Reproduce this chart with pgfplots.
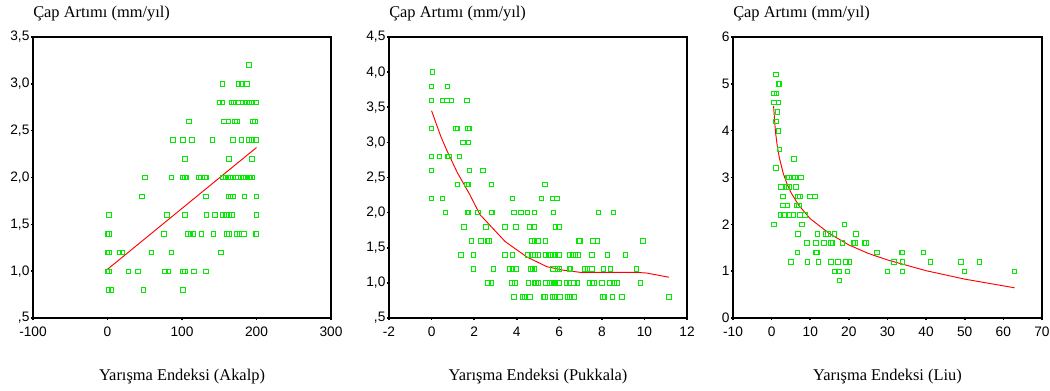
\documentclass[border=0pt]{standalone}
\usepackage{pgfplots}
\pgfplotsset{compat=1.18}
\usepackage{fontspec}
\setmainfont{Liberation Serif}
\setsansfont{Liberation Sans}
\definecolor{ptgreen}{RGB}{0,235,0}
\definecolor{fitred}{RGB}{255,0,0}
\pgfplotsset{
 panel/.style={
  scale only axis, height=210.75pt, anchor=south west,
  enlargelimits=false,
  axis line style={line width=0.8pt},
  tick style={black, line width=1.2pt}, major tick length=1.5pt, tick align=outside,
  xtick pos=lower, ytick pos=left,
  ticklabel style={font=\sffamily\fontsize{10.3}{12}\selectfont},
  yticklabel style={inner xsep=1pt},
  xticklabel style={yshift=-1.5pt},
  xlabel style={font=\fontsize{12.3}{14}\selectfont, at={(rel axis cs:0.5,0)}, anchor=base, yshift=-46.5pt},
  ylabel style={font=\fontsize{12.3}{14}\selectfont, rotate=-90, at={(rel axis cs:0,1)}, anchor=base west, yshift=15pt, inner xsep=0pt},
  ylabel={Çap Artımı (mm/yıl)},
 },
 pts/.style={only marks, mark=square, mark size=1.7pt, mark options={draw=ptgreen, line width=0.6pt}},
 fit/.style={fitred, line width=0.7pt, no marks}
}
\begin{document}
\begin{tikzpicture}
\path[use as bounding box] (0,0) rectangle (787.5pt,292.5pt);
% Panel 1
\begin{axis}[panel, at={(24.75pt,54pt)}, width=223.5pt,
 xmin=-100, xmax=300, ymin=0.5, ymax=3.5,
 xtick={-100,0,100,200,300}, xticklabels={-100,0,100,200,300},
 ytick={0.5,1,1.5,2,2.5,3,3.5}, yticklabels={{,5},{1,0},{1,5},{2,0},{2,5},{3,0},{3,5}},
 xlabel={Yarışma Endeksi (Akalp)}]
\addplot[pts] coordinates {
(190,3.2)
(154,3.0)(176,3.0)(180,3.0)(187,3.0)
(150,2.8)(154,2.8)(166,2.8)(169,2.8)(176,2.8)(181,2.8)(185,2.8)(190,2.8)(194,2.8)(199,2.8)
(109,2.6)(156,2.6)(162,2.6)(171,2.6)(174,2.6)(195,2.6)(198,2.6)
(88,2.4)(101,2.4)(113,2.4)(141,2.4)(168,2.4)(180,2.4)(190,2.4)(194,2.4)(199,2.4)
(104,2.2)(163,2.2)(194,2.2)
(50,2.0)(86,2.0)(101,2.0)(104,2.0)(106,2.0)(123,2.0)(125,2.0)(131,2.0)(133,2.0)(155,2.0)(158,2.0)(162,2.0)(165,2.0)(168,2.0)(172,2.0)(175,2.0)(183,2.0)(185,2.0)(188,2.0)(190,2.0)(192,2.0)(194,2.0)
(46,1.8)(132,1.8)(162,1.8)(165,1.8)(168,1.8)(184,1.8)(200,1.8)
(2,1.6)(80,1.6)(104,1.6)(133,1.6)(144,1.6)(154,1.6)(159,1.6)(163,1.6)(167,1.6)(200,1.6)
(0,1.4)(2,1.4)(76,1.4)(108,1.4)(111,1.4)(115,1.4)(126,1.4)(142,1.4)(160,1.4)(163,1.4)(174,1.4)(177,1.4)(183,1.4)(199,1.4)(200,1.4)
(0,1.2)(2,1.2)(16,1.2)(20,1.2)(59,1.2)(86,1.2)(152,1.2)
(0,1.0)(2,1.0)(28,1.0)(41,1.0)(77,1.0)(82,1.0)(101,1.0)(104,1.0)(116,1.0)(132,1.0)
(1,0.8)(5,0.8)(48,0.8)(101,0.8)
};
\addplot[fit] coordinates {(0,1.02)(200,2.32)};
\end{axis}
% Panel 2
\begin{axis}[panel, at={(291.75pt,54pt)}, width=223.5pt,
 xmin=-2, xmax=12, ymin=0.5, ymax=4.5,
 xtick={-2,0,2,4,6,8,10,12}, xticklabels={-2,0,2,4,6,8,10,12},
 ytick={0.5,1,1.5,2,2.5,3,3.5,4,4.5}, yticklabels={{,5},{1,0},{1,5},{2,0},{2,5},{3,0},{3,5},{4,0},{4,5}},
 xlabel={Yarışma Endeksi (Pukkala)}]
\addplot[pts] coordinates {
(0.03,4.0)
(0.0,3.8)(0.74,3.8)
(0.0,3.6)(0.5,3.6)(0.71,3.6)(0.93,3.6)(1.65,3.6)
(0.0,3.2)(1.15,3.2)(1.22,3.2)(1.7,3.2)(1.77,3.2)
(1.46,3.0)(1.73,3.0)
(0.0,2.8)(0.36,2.8)(0.74,2.8)(0.82,2.8)(1.3,2.8)
(0.0,2.6)(1.77,2.6)(2.4,2.6)
(1.21,2.4)(1.65,2.4)(1.73,2.4)(2.8,2.4)(5.32,2.4)
(0.0,2.2)(0.5,2.2)(3.8,2.2)(5.16,2.2)(5.68,2.2)(5.89,2.2)
(0.64,2.0)(1.68,2.0)(1.73,2.0)(2.17,2.0)(2.8,2.0)(2.84,2.0)(3.88,2.0)(4.19,2.0)(4.5,2.0)(4.84,2.0)(5.73,2.0)(7.83,2.0)(8.54,2.0)
(1.52,1.8)(2.56,1.8)(3.45,1.8)(3.97,1.8)(4.63,1.8)(4.8,1.8)(5.81,1.8)(5.97,1.8)
(1.87,1.6)(2.31,1.6)(2.62,1.6)(2.7,1.6)(4.71,1.6)(4.82,1.6)(4.99,1.6)(5.34,1.6)(6.92,1.6)(6.97,1.6)(7.57,1.6)(7.79,1.6)(9.94,1.6)
(1.38,1.4)(1.96,1.4)(3.45,1.4)(3.8,1.4)(4.5,1.4)(4.76,1.4)(4.85,1.4)(4.99,1.4)(5.34,1.4)(5.49,1.4)(5.6,1.4)(5.7,1.4)(5.79,1.4)(5.97,1.4)(6.48,1.4)(6.64,1.4)(6.75,1.4)(6.88,1.4)(7.52,1.4)(8.27,1.4)(9.1,1.4)
(1.96,1.2)(2.9,1.2)(3.66,1.2)(3.8,1.2)(3.96,1.2)(4.66,1.2)(4.74,1.2)(4.84,1.2)(5.71,1.2)(5.92,1.2)(6.0,1.2)(6.48,1.2)(6.53,1.2)(7.2,1.2)(7.33,1.2)(7.52,1.2)(8.08,1.2)(8.4,1.2)(9.62,1.2)
(2.64,1.0)(2.8,1.0)(3.77,1.0)(3.92,1.0)(4.55,1.0)(4.82,1.0)(4.9,1.0)(4.99,1.0)(5.35,1.0)(5.56,1.0)(5.65,1.0)(5.73,1.0)(5.81,1.0)(5.97,1.0)(6.33,1.0)(6.47,1.0)(6.69,1.0)(6.86,1.0)(7.41,1.0)(7.55,1.0)(7.63,1.0)(7.99,1.0)(8.37,1.0)(8.56,1.0)(8.71,1.0)(9.81,1.0)
(3.88,0.8)(4.27,0.8)(4.36,0.8)(4.63,0.8)(5.26,0.8)(5.32,0.8)(5.68,0.8)(5.76,0.8)(6.03,0.8)(6.39,0.8)(6.47,0.8)(6.72,0.8)(8.04,0.8)(8.12,0.8)(8.49,0.8)(8.93,0.8)(11.16,0.8)
};
\addplot[fit] coordinates {(0,3.45)(0.44,3.08)(0.71,2.89)(1.21,2.57)(1.77,2.27)(2.28,1.97)(3.45,1.59)(4.47,1.37)(5.42,1.23)(6.2,1.18)(6.99,1.15)(8.56,1.15)(9.65,1.15)(10.1,1.14)(11.16,1.08)};
\end{axis}
% Panel 3
\begin{axis}[panel, at={(549.75pt,54pt)}, width=231.75pt,
 xmin=-10, xmax=70, ymin=0, ymax=6,
 xtick={-10,0,10,20,30,40,50,60,70}, xticklabels={-10,0,10,20,30,40,50,60,70},
 ytick={0,1,2,3,4,5,6}, yticklabels={0,1,2,3,4,5,6},
 xlabel={Yarışma Endeksi (Liu)}]
\addplot[pts] coordinates {
(1.04,5.2)
(1.73,5.0)(1.99,5.0)
(0.52,4.8)(1.21,4.8)
(0.52,4.6)(1.73,4.6)
(1.47,4.4)
(1.04,4.2)
(1.73,4.0)
(1.99,3.6)
(5.8,3.4)
(1.04,3.2)
(4.07,3.0)(4.5,3.0)(5.62,3.0)(5.97,3.0)(7.61,3.0)
(2.42,2.8)(3.9,2.8)(4.5,2.8)(6.3,2.8)
(2.94,2.6)(6.75,2.6)(7.27,2.6)(9.86,2.6)(11.25,2.6)
(2.94,2.4)(4.07,2.4)(6.49,2.4)(7.1,2.4)
(2.3,2.2)(3.2,2.2)(3.46,2.2)(4.5,2.2)(5.62,2.2)(7.35,2.2)(8.56,2.2)
(0.52,2.0)(7.79,2.0)(18.8,2.0)
(6.83,1.8)(11.9,1.8)(14.1,1.8)(14.6,1.8)(16.2,1.8)(21.8,1.8)
(9.17,1.6)(11.4,1.6)(13.6,1.6)(15.3,1.6)(15.7,1.6)(18.3,1.6)(21.2,1.6)(21.6,1.6)(24.0,1.6)(24.4,1.6)
(6.66,1.4)(11.4,1.4)(11.7,1.4)(27.2,1.4)(33.7,1.4)(33.9,1.4)(39.3,1.4)
(4.93,1.2)(9.26,1.2)(12.1,1.2)(15.3,1.2)(17.2,1.2)(19.2,1.2)(20.1,1.2)(31.7,1.2)(33.9,1.2)(41.1,1.2)(49.0,1.2)(53.8,1.2)
(16.3,1.0)(17.5,1.0)(19.6,1.0)(30.0,1.0)(33.9,1.0)(49.9,1.0)(62.9,1.0)
(17.5,0.8)
};
\addplot[fit] coordinates {(0.5,4.53)(1,3.97)(1.5,3.65)(2,3.42)(3,3.09)(4,2.86)(5,2.68)(7,2.41)(10,2.12)(15,1.80)(20,1.56)(25,1.38)(30,1.24)(40,1.01)(50,0.83)(62.9,0.645)};
\end{axis}
\end{tikzpicture}
\end{document}
